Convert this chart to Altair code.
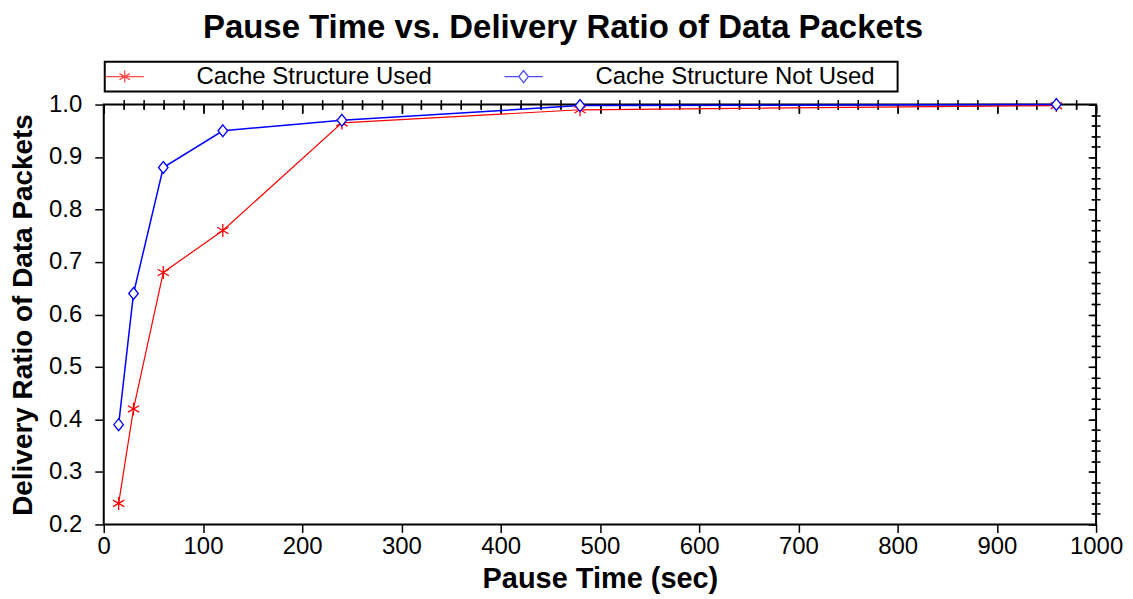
import altair as alt
import pandas as pd

pause = [15, 30, 60, 120, 240, 480, 960]
used = [0.24, 0.42, 0.68, 0.76, 0.965, 0.99, 0.998]
not_used = [0.39, 0.64, 0.88, 0.95, 0.97, 0.998, 1.0]
series = ["Cache Structure Used", "Cache Structure Not Used"]
colors = ["#ff0000", "#0000ff"]

x_major = [0, 100, 200, 300, 400, 500, 600, 700, 800, 900, 1000]
x_minor = [v for v in range(0, 1001, 20) if v % 100 != 0]
y_major = [0.2, 0.3, 0.4, 0.5, 0.6, 0.7, 0.8, 0.9, 1.0]
y_minor = [round(0.2 + 0.02 * i, 2) for i in range(41) if i % 5 != 0]

rows = []
for s, vals in zip(series, [used, not_used]):
    for xv, yv in zip(pause, vals):
        rows.append({"series": s, "x": xv, "y": yv})
df = pd.DataFrame(rows)

FONT = "Liberation Sans"
xs = alt.Scale(domain=[0, 1000], nice=False, zero=False)
ys = alt.Scale(domain=[0.2, 1.0], nice=False, zero=False)

STAR = "M0,-1L0,1M-0.87,-0.5L0.87,0.5M-0.87,0.5L0.87,-0.5"
DIAMOND = "M0,-1L0.8,0L0,1L-0.8,0Z"
# legend symbols: short line with the marker in its middle
STAR_LEG = "M-3.2,0L3.2,0" + STAR
DIAMOND_LEG = "M-3.2,0L-0.8,0M0.8,0L3.2,0" + DIAMOND + "M61.5,0"


def tick_axis(values, size, offset=0, orient=None):
    kw = dict(values=values, tickSize=size, tickColor="black", tickWidth=1.5,
              labels=False, domain=False, grid=False, title=None, offset=offset)
    if orient:
        kw["orient"] = orient
    return alt.Axis(**kw)


def axis_layer(xaxis=None, yaxis=None):
    return alt.Chart(df).mark_point(opacity=0).encode(
        x=alt.X("x:Q", scale=xs, axis=xaxis),
        y=alt.Y("y:Q", scale=ys, axis=yaxis),
    )


main_x = alt.Axis(values=x_major, format="d", labelFont=FONT, labelFontSize=24,
                  labelColor="black", tickSize=8, tickColor="black", tickWidth=1.5,
                  domain=False, grid=False, labelPadding=2, labelFlush=False,
                  labelOverlap=False, title="Pause Time (sec)", titleFont=FONT,
                  titleFontSize=29, titleFontWeight="bold", titleColor="black",
                  titlePadding=6)
main_y = alt.Axis(values=y_major, format=".1f", labelFont=FONT, labelFontSize=24,
                  labelColor="black", tickSize=9, tickColor="black", tickWidth=1.5,
                  domain=False, grid=False, labelPadding=13, labelFlush=False,
                  labelOverlap=False, title="Delivery Ratio of Data Packets",
                  titleFont=FONT, titleFontSize=28, titleFontWeight="bold",
                  titleColor="black", titlePadding=11)

layers = [
    axis_layer(main_x, main_y),
    axis_layer(tick_axis(x_major, 9, -9), tick_axis(y_major, 6, -6)),
    axis_layer(tick_axis(x_minor, 5), tick_axis(y_minor, 4)),
    axis_layer(tick_axis(x_minor, 4, -4), tick_axis(y_minor, 4, -4)),
    axis_layer(tick_axis(x_major, 8, -8, "top"), tick_axis(y_major, 8, -8, "right")),
    axis_layer(tick_axis(x_minor, 5, -5, "top"), tick_axis(y_minor, 5, -5, "right")),
]

for s, c, w in zip(series, colors, [1.2, 1.5]):
    layers.append(
        alt.Chart(df).transform_filter(alt.datum.series == s)
        .mark_line(color=c, strokeWidth=w)
        .encode(x=alt.X("x:Q", scale=xs, axis=None), y=alt.Y("y:Q", scale=ys, axis=None))
    )

layers.append(
    alt.Chart(df).transform_filter(alt.datum.series == series[0])
    .mark_point(shape=STAR, color=colors[0], filled=False, size=169, strokeWidth=1.3, opacity=1)
    .encode(x=alt.X("x:Q", scale=xs, axis=None), y=alt.Y("y:Q", scale=ys, axis=None))
)
layers.append(
    alt.Chart(df).transform_filter(alt.datum.series == series[1])
    .mark_point(shape=DIAMOND, filled=True, fill="white", stroke=colors[1], size=144,
                strokeWidth=1.3, opacity=1)
    .encode(x=alt.X("x:Q", scale=xs, axis=None), y=alt.Y("y:Q", scale=ys, axis=None))
)

leg = alt.Legend(orient="none", legendX=1, legendY=-43, direction="horizontal",
                 columns=2, title=None, labelFont=FONT, labelFontSize=24,
                 labelColor="black", labelLimit=500, symbolSize=144,
                 symbolStrokeWidth=1.3, symbolOffset=5, labelOffset=60,
                 columnPadding=69, padding=3, strokeColor="black")

layers.append(
    alt.Chart(df).transform_filter("false")
    .mark_point(filled=False, size=144, strokeWidth=1.3)
    .encode(
        x=alt.X("x:Q", scale=xs, axis=None),
        y=alt.Y("y:Q", scale=ys, axis=None),
        color=alt.Color("series:N", scale=alt.Scale(domain=series, range=colors), legend=leg),
        shape=alt.Shape("series:N", scale=alt.Scale(domain=series, range=[STAR_LEG, DIAMOND_LEG]),
                        legend=leg),
    )
)

chart = (
    alt.layer(*layers)
    .resolve_axis(x="independent", y="independent")
    .properties(
        width=995, height=421,
        autosize=alt.AutoSizeParams(type="none"),
        padding={"left": 96, "top": 96, "right": 29, "bottom": 70},
        title=alt.TitleParams("Pause Time vs. Delivery Ratio of Data Packets",
                              font=FONT, fontSize=33, fontWeight="bold", color="black",
                              anchor="middle", dx=-37, offset=16),
        background="white",
    )
    .configure_view(stroke="black", strokeWidth=2)
    .configure_legend(strokeWidth=2)
)

chart.save("out.html", embed_options={"renderer": "svg", "actions": False})
